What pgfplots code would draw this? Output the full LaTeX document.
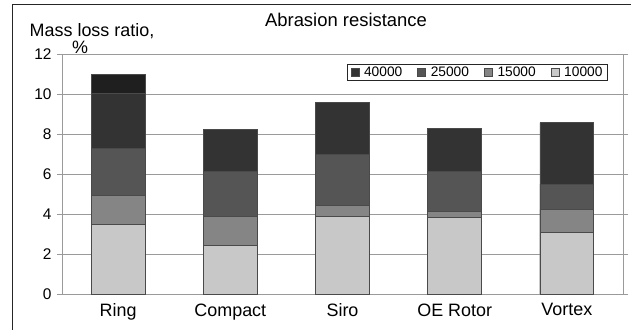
\documentclass[border=0pt]{standalone}
\usepackage{fontspec}
\setmainfont{Liberation Sans}
\usepackage{pgfplots}
\pgfplotsset{compat=1.18}
\definecolor{cA}{HTML}{1F1F1F}
\definecolor{c40}{HTML}{333333}
\definecolor{c25}{HTML}{555555}
\definecolor{c15}{HTML}{858585}
\definecolor{c10}{HTML}{C8C8C8}
\definecolor{edge}{HTML}{4A4A4A}
\definecolor{gridc}{HTML}{9A9A9A}
\begin{document}
\begin{tikzpicture}[x=1bp,y=1bp]
\useasboundingbox (0,0) rectangle (631,329);
\draw[line width=1bp, black!85] (12,-20) rectangle (660,324);
\node[font=\fontsize{18.5}{20}\selectfont] at (346,309) {Abrasion resistance};
\node[font=\fontsize{18}{20}\selectfont] at (92,298) {Mass loss ratio,};
\node[font=\fontsize{18}{20}\selectfont] at (80,282) {\%};
\begin{axis}[
  at={(62bp,35bp)}, anchor=south west,
  scale only axis, width=561bp, height=240bp,
  xmin=-0.5, xmax=4.5, ymin=0, ymax=12,
  ytick={0,2,...,12},
  xtick={0,1,2,3,4},
  xticklabels={Ring,Compact,Siro,OE Rotor,Vortex},
  xtick style={draw=none},
  ytick style={draw=gridc, line width=0.8bp},
  tick align=outside, major tick length=5bp,
  ymajorgrids, grid style={draw=gridc, line width=0.8bp},
  axis line style={draw=gridc, line width=0.8bp},
  yticklabel style={font=\fontsize{15.5}{17}\selectfont, xshift=-2bp},
  xticklabel style={font=\fontsize{18}{20}\selectfont, yshift=-1bp},
  /pgf/number format/assume math mode=true,
  ybar=0pt, bar width=0.48, bar shift=0pt,
  legend style={at={(0.973,0.958)}, anchor=north east, draw=black!85, line width=0.8bp,
    font=\fontsize{13.8}{15}\selectfont, legend columns=4,
    /tikz/every even column/.append style={column sep=13bp},
    inner xsep=3bp, inner ysep=0.5bp},
  legend image code/.code={\draw[#1, line width=0.5bp] (0bp,-4bp) rectangle (8bp,4bp);},
]
\addplot[fill=cA, draw=edge, line width=0.7bp, forget plot] coordinates {(0,11.0)};
\addplot[fill=c40, draw=edge, line width=0.7bp] coordinates {(0,10.03) (1,8.25) (2,9.57) (3,8.28) (4,8.57)};
\addplot[fill=c25, draw=edge, line width=0.7bp] coordinates {(0,7.28) (1,6.12) (2,7.0) (3,6.12) (4,5.5)};
\addplot[fill=c15, draw=edge, line width=0.7bp] coordinates {(0,4.92) (1,3.9) (2,4.45) (3,4.12) (4,4.23)};
\addplot[fill=c10, draw=edge, line width=0.7bp] coordinates {(0,3.47) (1,2.45) (2,3.87) (3,3.83) (4,3.07)};
\legend{\hspace{3bp}40000,\hspace{3bp}25000,\hspace{3bp}15000,\hspace{3bp}10000}
\end{axis}
\end{tikzpicture}
\end{document}
